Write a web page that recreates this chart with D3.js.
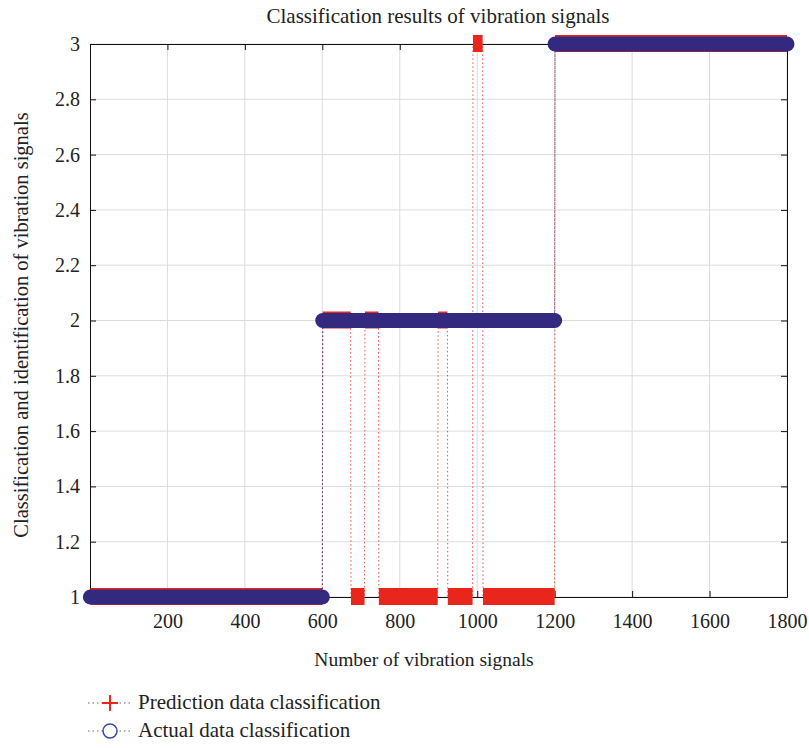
<!DOCTYPE html>
<html>
<head>
<meta charset="utf-8">
<script src="https://cdn.jsdelivr.net/npm/d3@7"></script>
<style>
  body { margin: 0; background: #fff; }
  svg { display: block; }
  svg text { font-family: "Liberation Serif", "DejaVu Serif", serif !important; fill: #222; }
</style>
</head>
<body>
<svg id="chart" width="809" height="748"></svg>
<script>
// Actual classes: runs of consecutive signal numbers sharing one class
const actualStart = [1, 601, 1201];
const actualClass = [1, 2, 3];

// Predicted classes
const predStart = [1, 601, 674, 710, 746, 899, 924, 989, 1015, 1201];
const predClass = [1, 2, 1, 2, 1, 2, 1, 3, 1, 3];

const lastSignal = 1800;
const xTicks = [200, 400, 600, 800, 1000, 1200, 1400, 1600, 1800];
const yTicks = [1, 1.2, 1.4, 1.6, 1.8, 2, 2.2, 2.4, 2.6, 2.8, 3];

const legendLabels = ["Prediction data classification", "Actual data classification"];

const RED = "#e8261c";
const BLUE = "#33297f";
const FONT = "Liberation Serif, DejaVu Serif, serif";

// turn start/class arrays into runs {from, to, cls}
function toRuns(starts, classes) {
  return starts.map((s, i) => ({
    from: s,
    to: i < starts.length - 1 ? starts[i + 1] - 1 : lastSignal,
    cls: classes[i]
  }));
}
const actualRuns = toRuns(actualStart, actualClass);
const predRuns = toRuns(predStart, predClass);

// vertices for the dotted connecting line
function runVertices(runs) {
  const pts = [];
  runs.forEach(r => { pts.push([r.from, r.cls]); pts.push([r.to, r.cls]); });
  return pts;
}

const svg = d3.select("#chart");
const margin = {left: 90, right: 22, top: 44, bottom: 151};
const W = 809, H = 748;

const x = d3.scaleLinear().domain([0, lastSignal]).range([margin.left, W - margin.right]);
const y = d3.scaleLinear().domain([1, 3]).range([H - margin.bottom, margin.top]);

// --- grid ---
const grid = svg.append("g").attr("class", "grid");
grid.selectAll("line.vx").data(xTicks).enter().append("line")
  .attr("x1", d => x(d)).attr("x2", d => x(d))
  .attr("y1", y(1)).attr("y2", y(3))
  .attr("stroke", "#dcdcdc").attr("stroke-width", 1);
grid.selectAll("line.hy").data(yTicks).enter().append("line")
  .attr("x1", x(0)).attr("x2", x(lastSignal))
  .attr("y1", d => y(d)).attr("y2", d => y(d))
  .attr("stroke", "#dcdcdc").attr("stroke-width", 1);

// --- axes (ticks inward, box all round) ---
const axB = d3.axisBottom(x).tickValues(xTicks).tickSizeInner(-6).tickSizeOuter(0).tickPadding(17)
  .tickFormat(d3.format("d"));
const axL = d3.axisLeft(y).tickValues(yTicks).tickSizeInner(-6).tickSizeOuter(0).tickPadding(10)
  .tickFormat(d3.format("~g"));
const axT = d3.axisTop(x).tickValues(xTicks).tickSizeInner(-6).tickSizeOuter(0).tickFormat("");
const axR = d3.axisRight(y).tickValues(yTicks).tickSizeInner(-6).tickSizeOuter(0).tickFormat("");

function styleAxis(g) {
  g.attr("font-family", FONT).attr("font-size", 20);
  g.select(".domain").attr("stroke", "#111");
  g.selectAll(".tick line").attr("stroke", "#111");
  g.selectAll(".tick text").attr("fill", "#222");
}
svg.append("g").attr("transform", `translate(0,${y(1)})`).call(axB).call(styleAxis);
svg.append("g").attr("transform", `translate(${x(0)},0)`).call(axL).call(styleAxis);
svg.append("g").attr("transform", `translate(0,${y(3)})`).call(axT).call(styleAxis);
svg.append("g").attr("transform", `translate(${x(lastSignal)},0)`).call(axR).call(styleAxis);

const line = d3.line().x(d => x(d[0])).y(d => y(d[1]));

// --- prediction series ---
svg.append("path")
  .datum(runVertices(predRuns))
  .attr("d", line)
  .attr("fill", "none")
  .attr("stroke", RED)
  .attr("stroke-width", 1)
  .attr("stroke-dasharray", "1.5,2.5")
  .attr("opacity", 0.8);

svg.append("g").selectAll("line").data(predRuns).enter().append("line")
  .attr("x1", d => x(d.from)).attr("x2", d => x(d.to))
  .attr("y1", d => y(d.cls) - 0.5).attr("y2", d => y(d.cls) - 0.5)
  .attr("stroke", RED)
  .attr("stroke-width", 17)
  .attr("stroke-linecap", "butt");

// --- actual series ---
svg.append("path")
  .datum(runVertices(actualRuns))
  .attr("d", line)
  .attr("fill", "none")
  .attr("stroke", BLUE)
  .attr("stroke-width", 1)
  .attr("stroke-dasharray", "1.5,2.5")
  .attr("opacity", 0.8);

svg.append("g").selectAll("line").data(actualRuns).enter().append("line")
  .attr("x1", d => x(d.from)).attr("x2", d => x(d.to))
  .attr("y1", d => y(d.cls)).attr("y2", d => y(d.cls))
  .attr("stroke", BLUE)
  .attr("stroke-width", 15)
  .attr("stroke-linecap", "round");

// --- titles ---
svg.append("text")
  .attr("x", 438).attr("y", 23)
  .attr("text-anchor", "middle")
  .style("font-size", "21px")
  .text("Classification results of vibration signals");

svg.append("text")
  .attr("x", 424).attr("y", 666)
  .attr("text-anchor", "middle")
  .style("font-size", "19.5px")
  .text("Number of vibration signals");

svg.append("text")
  .attr("transform", `translate(28,${325}) rotate(-90)`)
  .attr("text-anchor", "middle")
  .style("font-size", "20.5px")
  .text("Classification and identification of vibration signals");

// --- legend ---
const legend = svg.append("g").attr("transform", "translate(88,703)");
const rows = legend.selectAll("g").data(legendLabels).enter().append("g")
  .attr("transform", (d, i) => `translate(0,${i * 28})`);

rows.append("line")
  .attr("x1", 0).attr("x2", 44).attr("y1", 0).attr("y2", 0)
  .attr("stroke", "#666")
  .attr("stroke-width", 1)
  .attr("stroke-dasharray", "1.5,3");

rows.filter((d, i) => i === 0).append("path")
  .attr("d", "M14,0H30M22,-8V8")
  .attr("stroke", RED).attr("stroke-width", 2).attr("fill", "none");

rows.filter((d, i) => i === 1).append("circle")
  .attr("cx", 22).attr("cy", 0).attr("r", 7)
  .attr("fill", "#fff").attr("stroke", "#3a4aa8").attr("stroke-width", 1.5);

rows.append("text")
  .attr("x", 50).attr("y", 6)
  .style("font-size", "21px")
  .text(d => d);
</script>
</body>
</html>
